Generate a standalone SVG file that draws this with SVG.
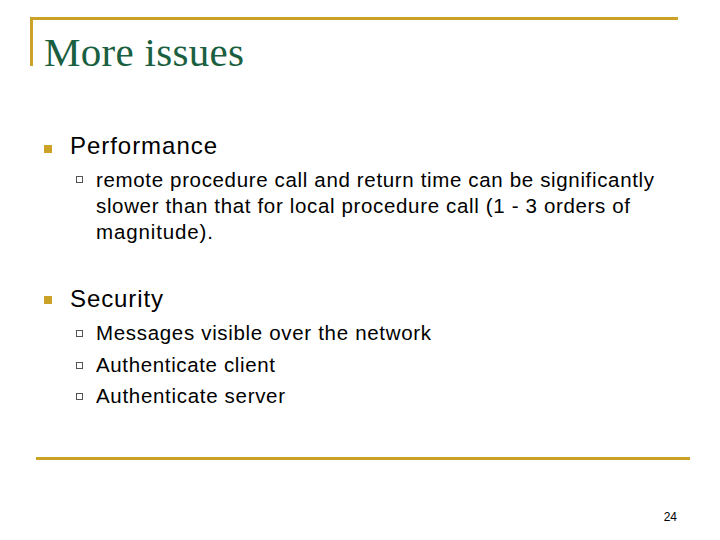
<svg xmlns="http://www.w3.org/2000/svg" width="720" height="540" viewBox="0 0 720 540">
<style>
.t{font-family:"Liberation Sans",Arial,sans-serif;fill:#000}
.l1{font-size:24px}.l2{font-size:20.5px}
.gb{fill:#c9a227}
.hb{fill:#fff;stroke:#555;stroke-width:1}
</style>
<rect width="720" height="540" fill="#fff"/>
<g id="frame" fill="#c9a227">
<rect x="30" y="17" width="648" height="3"/>
<rect x="30" y="17" width="3" height="49"/>
<rect x="36" y="457" width="654" height="3"/>
</g>
<text x="44" y="66" font-family="Liberation Serif,serif" font-size="41" fill="#1a6040" textLength="200">More issues</text>
<g id="performance">
<rect class="gb" x="44" y="145" width="8" height="8"/>
<text class="t l1" x="70" y="154" textLength="147">Performance</text>
<rect class="hb" x="76.5" y="176.5" width="6" height="6"/>
<text class="t l2" x="96" y="187" textLength="558">remote procedure call and return time can be significantly</text>
<text class="t l2" x="96" y="213" textLength="534">slower than that for local procedure call (1 - 3 orders of</text>
<text class="t l2" x="96" y="239" textLength="117">magnitude).</text>
</g>
<g id="security">
<rect class="gb" x="44" y="296" width="8" height="8"/>
<text class="t l1" x="70" y="307" textLength="93">Security</text>
<rect class="hb" x="76.5" y="330.5" width="6" height="6"/>
<text class="t l2" x="96" y="340" textLength="335">Messages visible over the network</text>
<rect class="hb" x="76.5" y="362.5" width="6" height="6"/>
<text class="t l2" x="96" y="372" textLength="179">Authenticate client</text>
<rect class="hb" x="76.5" y="393.5" width="6" height="6"/>
<text class="t l2" x="96" y="403" textLength="189">Authenticate server</text>
</g>
<text class="t" x="677" y="521" font-size="12" text-anchor="end">24</text>
</svg>
